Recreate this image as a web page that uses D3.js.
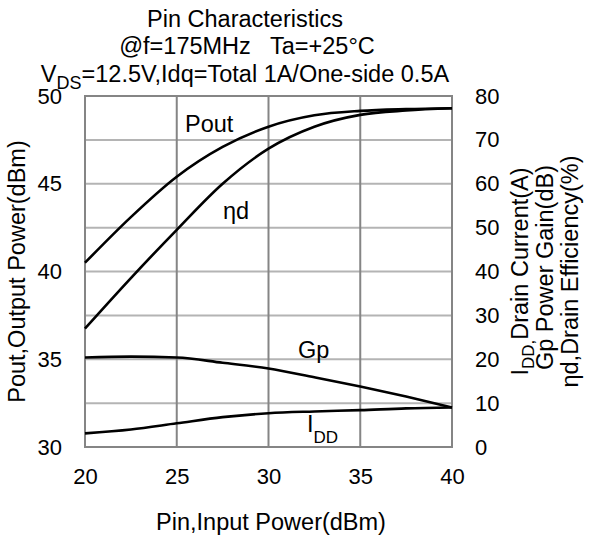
<!DOCTYPE html>
<html>
<head>
<meta charset="utf-8">
<script src="https://cdn.jsdelivr.net/npm/d3@7"></script>
<style>
  html, body { margin: 0; padding: 0; background: #fff; }
  svg { display: block; }
  text { font-family: "Liberation Sans", Arial, sans-serif; fill: #000; }
</style>
</head>
<body>
<script>
// ---- data ----
const pin   = [20, 22.5, 25, 27.5, 30, 32.5, 35, 37.5, 40];          // Pin (dBm)
const pout  = [40.5, 43.1, 45.4, 47.1, 48.25, 48.9, 49.15, 49.25, 49.3]; // Pout (dBm), left axis
const eta   = [27, 38.5, 49.5, 60, 68, 73, 75.7, 76.7, 77.2];          // ηd (%), right axis
const gp    = [20.4, 20.6, 20.4, 19.2, 17.9, 15.9, 13.8, 11.5, 9.0];   // Gp (dB), right axis
const idd   = [3.1, 4.0, 5.4, 6.8, 7.7, 8.1, 8.4, 8.8, 9.0];           // IDD (A), right axis

const xTicks      = [20, 25, 30, 35, 40];
const yLeftTicks  = [30, 35, 40, 45, 50];
const yLeftGrid   = [32.5, 35, 37.5, 40, 42.5, 45, 47.5];
const yRightTicks = [0, 10, 20, 30, 40, 50, 60, 70, 80];

const W = 592, H = 535;
const L = 85, R = 452, T = 96, B = 447;

const svg = d3.select("body").append("svg").attr("width", W).attr("height", H);
svg.append("rect").attr("width", W).attr("height", H).attr("fill", "#fff");

const x  = d3.scaleLinear().domain([20, 40]).range([L, R]);
const yL = d3.scaleLinear().domain([30, 50]).range([B, T]);
const yR = d3.scaleLinear().domain([0, 80]).range([B, T]);

// horizontal grid (lighter)
svg.append("g").selectAll("line").data(yLeftGrid).join("line")
  .attr("x1", L).attr("x2", R).attr("y1", d => yL(d)).attr("y2", d => yL(d))
  .attr("stroke", "#b4b4b4").attr("stroke-width", 2);
// vertical grid (darker)
svg.append("g").selectAll("line").data([25, 30, 35]).join("line")
  .attr("x1", d => x(d)).attr("x2", d => x(d)).attr("y1", T).attr("y2", B)
  .attr("stroke", "#858585").attr("stroke-width", 2);
// frame
svg.append("rect").attr("x", L).attr("y", T).attr("width", R - L).attr("height", B - T)
  .attr("fill", "none").attr("stroke", "#858585").attr("stroke-width", 2);

// curves
const mk = (vals, ys) => d3.line().x((d, i) => x(pin[i])).y(d => ys(d)).curve(d3.curveMonotoneX)(vals);
[[pout, yL], [eta, yR], [gp, yR], [idd, yR]].forEach(([v, s]) => {
  svg.append("path").attr("d", mk(v, s)).attr("fill", "none")
    .attr("stroke", "#000").attr("stroke-width", 2.6);
});

// axes (labels only)
const fs = 22;
const gx = svg.append("g").attr("transform", `translate(0,${B})`)
  .call(d3.axisBottom(x).tickValues(xTicks).tickSize(0).tickPadding(fs + 15));
const gyl = svg.append("g").attr("transform", `translate(${L},0)`)
  .call(d3.axisLeft(yL).tickValues(yLeftTicks).tickSize(0).tickPadding(23));
const gyr = svg.append("g").attr("transform", `translate(${R},0)`)
  .call(d3.axisRight(yR).tickValues(yRightTicks).tickSize(0).tickPadding(23));
[gx, gyl, gyr].forEach(g => {
  g.select(".domain").remove();
  g.selectAll("text").attr("font-size", fs)
    .attr("font-family", '"Liberation Sans", Arial, sans-serif').attr("fill", "#000");
});
gx.selectAll("text").attr("dy", 0).attr("y", 37);

const tf = 23.5;
// titles
const title = svg.append("g").attr("font-size", tf).attr("text-anchor", "middle");
title.append("text").attr("x", 245).attr("y", 27).text("Pin Characteristics");
title.append("text").attr("x", 247).attr("y", 54).text("@f=175MHz\u00a0\u00a0 Ta=+25\u00b0C");
const t3 = title.append("text").attr("x", 245).attr("y", 82);
t3.append("tspan").text("V");
t3.append("tspan").attr("dy", 7).attr("font-size", 18).text("DS");
t3.append("tspan").attr("dy", -7).text("=12.5V,Idq=Total 1A/One-side 0.5A");

// x label
svg.append("text").attr("x", 271).attr("y", 530).attr("text-anchor", "middle")
  .attr("font-size", tf).text("Pin,Input Power(dBm)");

// left label
svg.append("text").attr("transform", `translate(25,${(T + B) / 2}) rotate(-90)`)
  .attr("text-anchor", "middle").attr("font-size", tf).text("Pout,Output Power(dBm)");

// right labels
const cy = (T + B) / 2;
const r1 = svg.append("text").attr("transform", `translate(528,${cy}) rotate(-90)`)
  .attr("text-anchor", "middle").attr("font-size", tf);
r1.append("tspan").text("I");
r1.append("tspan").attr("dy", 6).attr("font-size", 17).text("DD,");
r1.append("tspan").attr("dy", -6).text("Drain Current(A)");
svg.append("text").attr("transform", `translate(553,${cy - 4}) rotate(-90)`)
  .attr("text-anchor", "middle").attr("font-size", tf).text("Gp Power Gain(dB)");
svg.append("text").attr("transform", `translate(578,${cy}) rotate(-90)`)
  .attr("text-anchor", "middle").attr("font-size", tf).text("\u03b7d,Drain Efficiency(%)");

// curve labels
const lab = svg.append("g").attr("font-size", tf);
lab.append("text").attr("x", 185).attr("y", 132).text("Pout");
lab.append("text").attr("x", 223).attr("y", 219).text("\u03b7d");
lab.append("text").attr("x", 298).attr("y", 358).text("Gp");
const li = lab.append("text").attr("x", 307).attr("y", 432);
li.append("tspan").text("I");
li.append("tspan").attr("dy", 11).attr("font-size", 17).text("DD");
</script>
</body>
</html>
